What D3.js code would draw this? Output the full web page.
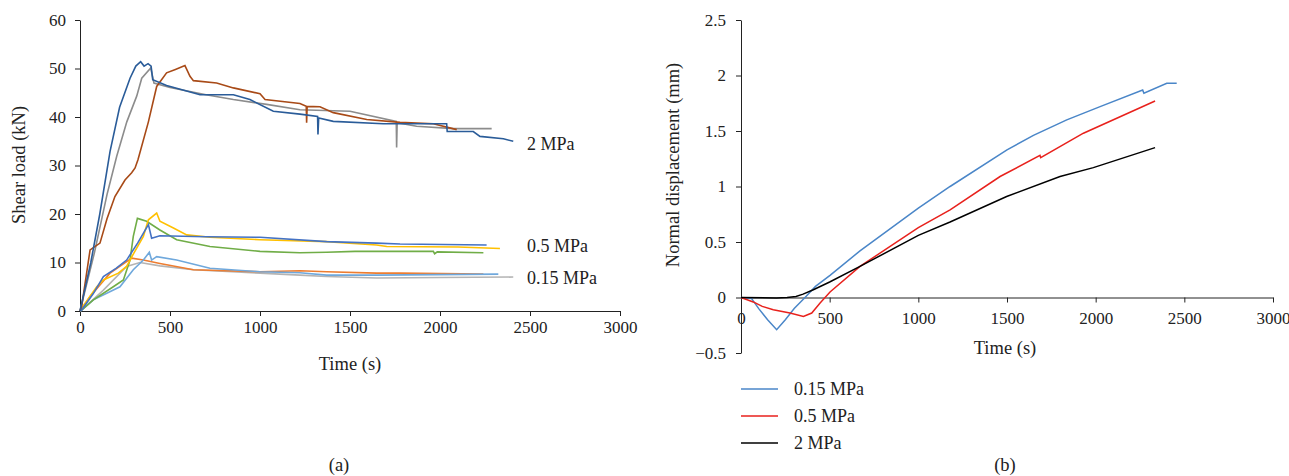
<!DOCTYPE html>
<html>
<head>
<meta charset="utf-8">
<script src="https://cdn.jsdelivr.net/npm/d3@7"></script>
<style>
body { margin: 0; background: #fff; }
text { font-family: "Liberation Serif", "DejaVu Serif", serif; fill: #222; }
</style>
</head>
<body>
<script>
// ---- panel (a): shear load vs time, [time s, load kN] ----
const blue2 = [[0,0],[60,10],[110,20],[167,32.9],[220,42],[278,48],[310,50.5],[337,51.4],[356,50.5],[378,51],[395,50.5],[404,47.7],[481,46.5],[667,44.6],[852,44.6],[944,43.6],[1074,41.2],[1222,40.6],[1320,40.1],[1322,36.4],[1326,39.8],[1407,39.1],[1685,38.6],[2037,38.6],[2040,37],[2185,37],[2222,36],[2352,35.5],[2407,35]];
const gray2 = [[0,0],[80,12],[150,24],[204,31.9],[260,39],[315,44.3],[343,48],[393,50.1],[411,47],[500,46.1],[700,44.6],[852,43.6],[1037,42.6],[1222,41.5],[1500,41.2],[1757,39.1],[1759,33.7],[1762,38.8],[1870,38.1],[2074,37.6],[2287,37.6]];
const brown2 = [[0,0],[9,0.9],[56,12.6],[111,14],[150,19],[194,23.6],[250,27],[287,28.5],[306,29.5],[322,31.2],[380,39],[426,46.3],[481,49.1],[530,49.8],[583,50.6],[611,48.4],[630,47.5],[759,47],[852,46],[1000,44.8],[1028,43.6],[1222,42.8],[1257,42.2],[1259,38.8],[1262,42.2],[1333,42.1],[1407,40.9],[1593,39.5],[1778,38.9],[1963,38.6],[2093,37.4]];
const yellow05 = [[0,0],[9,0.6],[93,5],[130,6.4],[213,7.8],[259,9.2],[300,12],[352,15.4],[380,18.8],[426,20.2],[444,18.5],[519,17.1],[593,15.7],[722,15.2],[1000,14.7],[1370,14.3],[1648,13.6],[1704,13.3],[2100,13.2],[2333,12.9]];
const blue05 = [[0,0],[9,0.2],[74,3.6],[130,7.1],[200,8.8],[259,10.5],[320,14],[380,17.8],[398,15],[444,15.5],[700,15.3],[1000,15.2],[1370,14.3],[1648,14],[1778,13.8],[2259,13.6]];
const green05 = [[0,0],[9,0.2],[74,2.3],[185,5],[241,6.4],[278,10.5],[296,15.4],[319,19.1],[370,18.5],[444,16.7],[537,14.7],[722,13.3],[1000,12.3],[1222,12.0],[1370,12.1],[1528,12.3],[1963,12.3],[1970,11.8],[1985,12.2],[2241,12.0]];
const lblue015 = [[0,0],[9,0.2],[74,2.3],[222,5],[296,8.5],[352,10.5],[385,12.1],[398,10.5],[426,11.2],[537,10.5],[722,8.8],[1000,8.1],[1222,7.9],[1370,7.4],[1648,7.4],[2324,7.6]];
const orange015 = [[0,0],[9,0.3],[56,3],[167,7.8],[287,10.9],[352,10.5],[444,9.8],[630,8.5],[1000,8.1],[1222,8.3],[1370,8.1],[1648,7.8],[1778,7.8],[2241,7.6]];
const lgray015 = [[0,0],[9,0.2],[130,4.3],[259,9.2],[333,10],[444,9.3],[630,8.5],[1000,7.8],[1222,7.4],[1370,7.1],[1648,6.8],[2000,6.9],[2407,7.0]];

const seriesA = [
  {data: lgray015, color: "#b4b4b4"},
  {data: orange015, color: "#ed7d31"},
  {data: lblue015, color: "#6fa8dc"},
  {data: green05, color: "#70ad47"},
  {data: yellow05, color: "#ffc000"},
  {data: blue05, color: "#4472c4"},
  {data: gray2, color: "#8c8c8c"},
  {data: brown2, color: "#a84a17"},
  {data: blue2, color: "#2a5c99"}
];
const groupLabels = [{text: "2 MPa", v: 34.5}, {text: "0.5 MPa", v: 13.4}, {text: "0.15 MPa", v: 6.8}];
const ticksTimeA = [0, 500, 1000, 1500, 2000, 2500, 3000];
const ticksLoad = [0, 10, 20, 30, 40, 50, 60];

// ---- panel (b): normal displacement vs time, [time s, disp mm] ----
const disp015 = [[0,0],[60,-0.01],[100,-0.1],[150,-0.2],[201,-0.29],[250,-0.2],[300,-0.1],[361,0],[420,0.1],[502,0.2],[671,0.42],[1000,0.806],[1179,1.0],[1500,1.33],[1649,1.46],[1837,1.6],[2025,1.72],[2265,1.87],[2272,1.84],[2401,1.93],[2457,1.93]];
const disp05 = [[0,0],[69,-0.04],[120,-0.08],[182,-0.11],[276,-0.14],[352,-0.17],[399,-0.14],[446,-0.05],[502,0.05],[671,0.28],[1000,0.63],[1179,0.79],[1461,1.09],[1686,1.28],[1690,1.26],[1931,1.48],[2335,1.77]];
const disp2 = [[0,0],[200,-0.005],[260,0],[310,0.01],[350,0.03],[408,0.07],[500,0.14],[671,0.28],[1000,0.56],[1179,0.68],[1498,0.91],[1799,1.09],[1987,1.17],[2335,1.35]];

const seriesB = [
  {data: disp015, color: "#4a86c8", name: "0.15 MPa"},
  {data: disp05, color: "#e8211c", name: "0.5 MPa"},
  {data: disp2, color: "#000000", name: "2 MPa"}
];
const ticksTimeB = [0, 500, 1000, 1500, 2000, 2500, 3000];
const ticksDisp = [-0.5, 0, 0.5, 1, 1.5, 2, 2.5];

const FS = 17;   // tick labels
const LS = 18.5; // titles and labels
const svg = d3.select("body").append("svg").attr("width", 1289).attr("height", 476);

function styleAxis(g) {
  g.select(".domain").attr("stroke", "#222");
  g.selectAll(".tick line").attr("stroke", "#222");
  g.selectAll("text").attr("font-size", FS).attr("font-family", "Liberation Serif").attr("fill", "#222");
}

// ---------- panel (a) ----------
const xA = d3.scaleLinear().domain([0, 3000]).range([80, 620]);
const yA = d3.scaleLinear().domain([0, 60]).range([311, 20]);

svg.append("g").attr("transform", "translate(0,311)")
  .call(d3.axisBottom(xA).tickValues(ticksTimeA).tickFormat(d3.format("d")).tickSize(5).tickSizeOuter(0).tickPadding(5))
  .call(styleAxis);

svg.append("g").attr("transform", "translate(80,0)")
  .call(d3.axisLeft(yA).tickValues(ticksLoad).tickSize(5).tickSizeOuter(0).tickPadding(9))
  .call(styleAxis);

const lineA = d3.line().x(d => xA(d[0])).y(d => yA(d[1]));
seriesA.forEach(s => {
  svg.append("path").datum(s.data)
    .attr("fill", "none").attr("stroke", s.color).attr("stroke-width", 1.6)
    .attr("d", lineA);
});

groupLabels.forEach(l => {
  svg.append("text").attr("x", 527).attr("y", yA(l.v)).attr("dy", "0.35em")
    .attr("font-size", 18).text(l.text);
});

svg.append("text").attr("x", 350).attr("y", 370).attr("text-anchor", "middle")
  .attr("font-size", LS).text("Time (s)");
svg.append("text").attr("transform", "translate(25,165) rotate(-90)").attr("text-anchor", "middle")
  .attr("font-size", LS).text("Shear load (kN)");
svg.append("text").attr("x", 339).attr("y", 471).attr("text-anchor", "middle")
  .attr("font-size", LS).text("(a)");

// ---------- panel (b) ----------
const xB = d3.scaleLinear().domain([0, 3000]).range([741, 1273]);
const yB = d3.scaleLinear().domain([-0.5, 2.5]).range([353, 20]);

svg.append("g").attr("transform", "translate(0," + yB(0) + ")")
  .call(d3.axisBottom(xB).tickValues(ticksTimeB).tickFormat(d3.format("d")).tickSize(5).tickSizeOuter(0).tickPadding(9))
  .call(styleAxis);

svg.append("g").attr("transform", "translate(741,0)")
  .call(d3.axisLeft(yB).tickValues(ticksDisp).tickFormat(d3.format("")).tickSize(5).tickSizeOuter(0).tickPadding(10))
  .call(styleAxis);

const lineB = d3.line().x(d => xB(d[0])).y(d => yB(d[1]));
seriesB.forEach(s => {
  svg.append("path").datum(s.data)
    .attr("fill", "none").attr("stroke", s.color).attr("stroke-width", 1.5)
    .attr("d", lineB);
});

// legend
seriesB.forEach((s, i) => {
  const ly = 389 + i * 27;
  svg.append("line").attr("x1", 741).attr("x2", 778).attr("y1", ly).attr("y2", ly)
    .attr("stroke", s.color).attr("stroke-width", 1.5);
  svg.append("text").attr("x", 794).attr("y", ly).attr("dy", "0.35em")
    .attr("font-size", 18).text(s.name);
});

svg.append("text").attr("x", 1005).attr("y", 354).attr("text-anchor", "middle")
  .attr("font-size", LS).text("Time (s)");
svg.append("text").attr("transform", "translate(679,165) rotate(-90)").attr("text-anchor", "middle")
  .attr("font-size", LS).text("Normal displacement (mm)");
svg.append("text").attr("x", 1005).attr("y", 471).attr("text-anchor", "middle")
  .attr("font-size", LS).text("(b)");
</script>
</body>
</html>
